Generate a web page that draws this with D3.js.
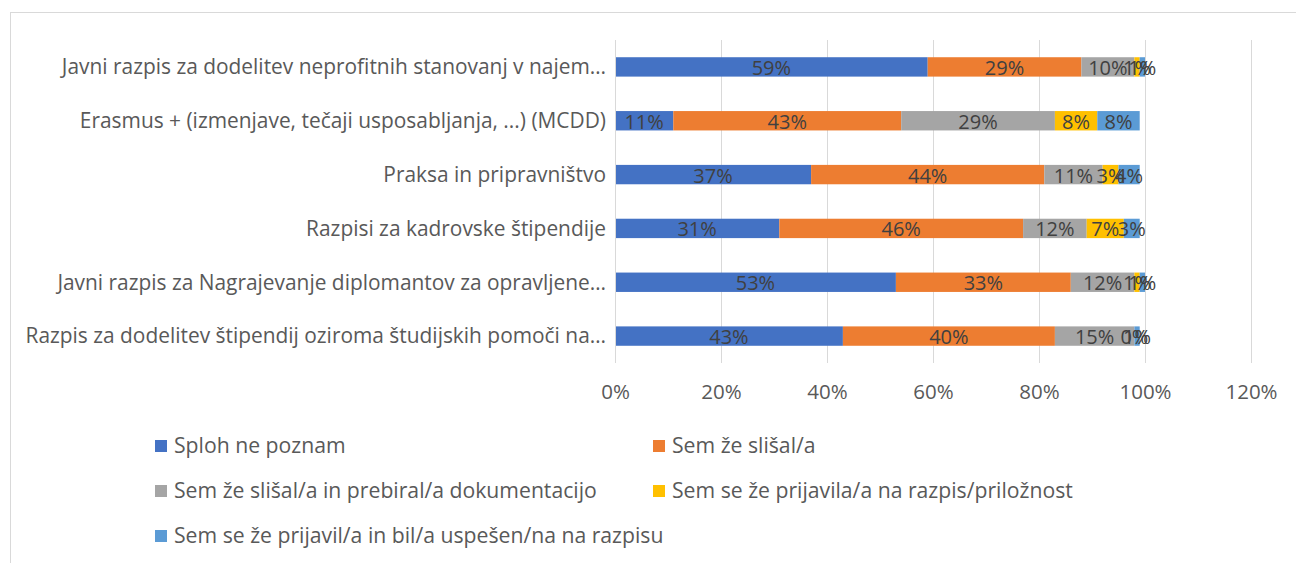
<!DOCTYPE html>
<html>
<head>
<meta charset="utf-8">
<script src="https://cdn.jsdelivr.net/npm/d3@7"></script>
<style>
    body { margin: 0; background: #fff; }
    svg { display: block; font-family: "Open Sans", sans-serif; }
</style>
</head>
<body>
<div id="chart"></div>
<script>
// data
var categories = [
    'Javni razpis za dodelitev neprofitnih stanovanj v najem…',
    'Erasmus + (izmenjave, tečaji usposabljanja, ...) (MCDD)',
    'Praksa in pripravništvo',
    'Razpisi za kadrovske štipendije ',
    'Javni razpis za Nagrajevanje diplomantov za opravljene…',
    'Razpis za dodelitev štipendij oziroma študijskih pomoči na…'
];
var seriesNames = [
    'Sploh ne poznam',
    'Sem že slišal/a',
    'Sem že slišal/a in prebiral/a dokumentacijo',
    'Sem se že prijavila/a na razpis/priložnost',
    'Sem se že prijavil/a in bil/a uspešen/na na razpisu'
];
var splohNe = [59, 11, 37, 31, 53, 43];
var slisal = [29, 43, 44, 46, 33, 40];
var prebiral = [10, 29, 11, 12, 12, 15];
var prijavil = [1, 8, 3, 7, 1, 0];
var uspesen = [1, 8, 4, 3, 1, 1];
var tickValues = [0, 20, 40, 60, 80, 100, 120];

var colors = ['#4472C4', '#ED7D31', '#A5A5A5', '#FFC000', '#5B9BD5'];

var width = 1296, height = 563;
var svg = d3.select('#chart').append('svg')
    .attr('width', width)
    .attr('height', height);

// chart frame
svg.append('rect')
    .attr('x', 10.5).attr('y', 12.5)
    .attr('width', 1300).attr('height', 600)
    .attr('fill', 'none')
    .attr('stroke', '#d9d9d9');

var x = d3.scaleLinear().domain([0, 120]).range([615, 1251]);
var y = d3.scaleBand().domain(categories).range([40, 363]).paddingInner(0.64).paddingOuter(0.32);

var rows = categories.map(function(c, i) {
    var vals = [splohNe[i], slisal[i], prebiral[i], prijavil[i], uspesen[i]];
    var row = { cat: c };
    seriesNames.forEach(function(s, j) { row[s] = vals[j]; });
    return row;
});
var stacked = d3.stack().keys(seriesNames)(rows);

// gridlines
svg.append('g').selectAll('line')
    .data(tickValues.slice(1))
    .enter().append('line')
    .attr('x1', function(d) { return x(d) + 0.5; })
    .attr('x2', function(d) { return x(d) + 0.5; })
    .attr('y1', 40).attr('y2', 363)
    .attr('stroke', '#d9d9d9');

// bars
var layer = svg.append('g').selectAll('g')
    .data(stacked)
    .enter().append('g')
    .attr('fill', function(d, i) { return colors[i]; });

layer.selectAll('rect')
    .data(function(d) { return d; })
    .enter().append('rect')
    .attr('x', function(d) { return x(d[0]); })
    .attr('width', function(d) { return x(d[1]) - x(d[0]); })
    .attr('y', function(d) { return y(d.data.cat); })
    .attr('height', y.bandwidth());

// data labels
var lbl = svg.append('g');
stacked.forEach(function(s) {
    s.forEach(function(d) {
        lbl.append('text')
            .attr('x', (x(d[0]) + x(d[1])) / 2)
            .attr('y', y(d.data.cat) + y.bandwidth() / 2 + 1)
            .attr('dy', '0.35em')
            .attr('text-anchor', 'middle')
            .attr('fill', '#404040')
            .attr('font-size', 20)
            .text((d[1] - d[0]) + '%');
    });
});

// vertical axis line
svg.append('line')
    .attr('x1', x(0) + 0.5).attr('x2', x(0) + 0.5)
    .attr('y1', 40).attr('y2', 363)
    .attr('stroke', '#d9d9d9');

// category labels
svg.append('g').selectAll('text')
    .data(categories)
    .enter().append('text')
    .attr('x', 606)
    .attr('y', function(d) { return y(d) + y.bandwidth() / 2; })
    .attr('dy', '0.35em')
    .attr('text-anchor', 'end')
    .attr('fill', '#595959')
    .attr('font-size', 20.9)
    .text(function(d) { return d; });

// x axis
var xAxis = svg.append('g')
    .attr('transform', 'translate(0,363)')
    .call(d3.axisBottom(x).tickValues(tickValues).tickSize(0).tickPadding(21)
        .tickFormat(function(d) { return d + '%'; }));
xAxis.select('.domain').remove();
xAxis.selectAll('text')
    .attr('fill', '#595959')
    .attr('font-size', 20.5)
    .attr('font-family', '"Open Sans", sans-serif');

// legend
var legendPos = [[155, 446], [653, 446], [155, 491], [653, 491], [155, 536]];
var legend = svg.append('g').selectAll('g')
    .data(seriesNames)
    .enter().append('g')
    .attr('transform', function(d, i) { return 'translate(' + legendPos[i][0] + ',' + legendPos[i][1] + ')'; });
legend.append('rect')
    .attr('x', 0).attr('y', -6)
    .attr('width', 12).attr('height', 12)
    .attr('fill', function(d, i) { return colors[i]; });
legend.append('text')
    .attr('x', 19)
    .attr('dy', '0.35em')
    .attr('fill', '#595959')
    .attr('font-size', 21.2)
    .text(function(d) { return d; });
</script>
</body>
</html>
